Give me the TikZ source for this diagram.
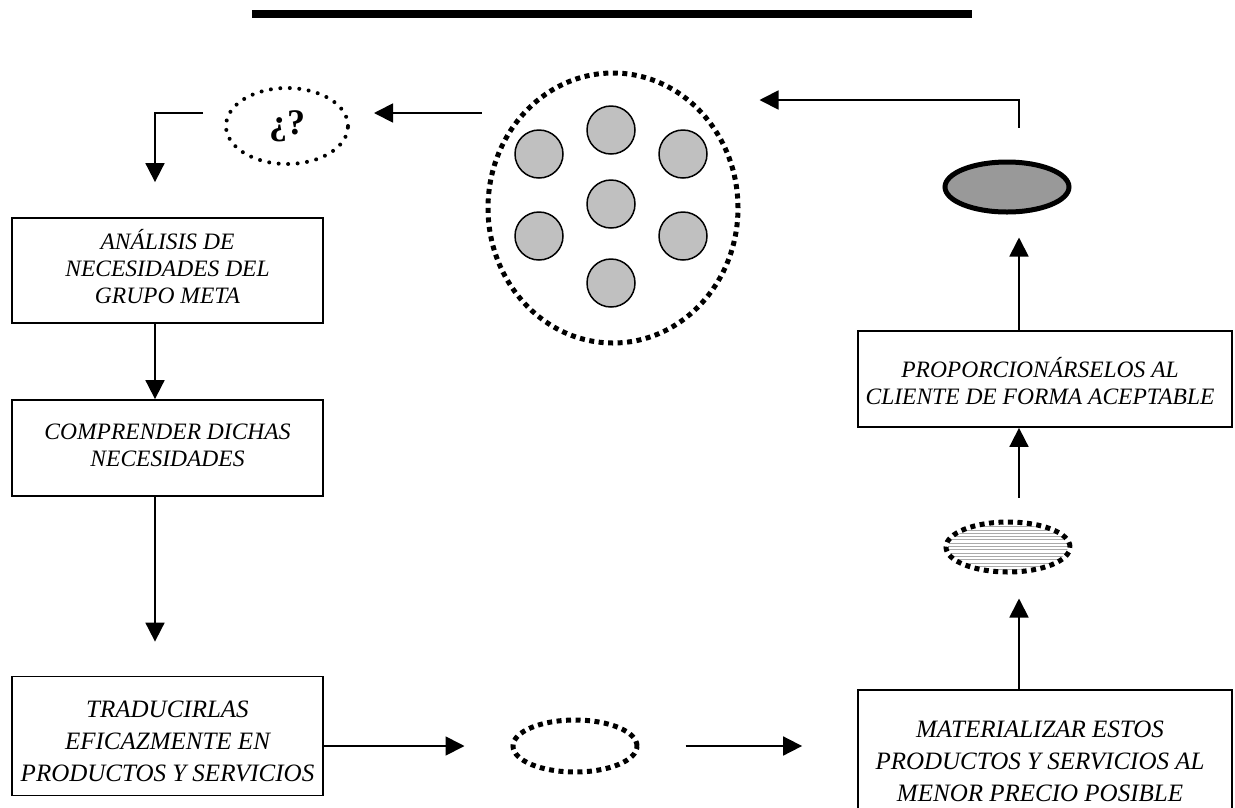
\documentclass[tikz,border=0pt]{standalone}
\usepackage{fontspec}
\setmainfont{Liberation Serif}
\usetikzlibrary{arrows.meta,shapes.geometric}
\definecolor{disc}{HTML}{C0C0C0}
\definecolor{darkdisc}{HTML}{999999}
\definecolor{hatch}{HTML}{AAAAAA}
\begin{document}
\begin{tikzpicture}[x=1pt,y=-1pt,
  stepbox/.style={draw,line width=1.8pt,rectangle,inner sep=0pt},
  uppertext/.style={inner sep=0pt,align=center,font=\fontsize{23.5}{27}\selectfont\itshape},
  lowertext/.style={inner sep=0pt,align=center,font=\fontsize{25}{32}\selectfont\itshape},
  arr/.style={line width=1.8pt,-{Triangle[length=19pt,width=19pt]}},
  rounddots/.style={draw,line width=4pt,line cap=round,dash pattern=on 0pt off 9.5pt},
  squaredots/.style={draw,line width=5pt,dash pattern=on 5pt off 4.5pt},
  oval/.style={ellipse,inner sep=0pt},
  member/.style={circle,draw,line width=1.5pt,fill=disc,minimum size=48pt,inner sep=0pt}]
\useasboundingbox (0,0) rectangle (1235,807);
\clip (0,0) rectangle (1235,807);

% heading rule
\fill (252,10) rectangle (972,18);

% helper coordinates for connector columns and rows
\coordinate (lx) at (155,0);
\coordinate (rx) at (1019,0);
\coordinate (ty) at (0,113);
\coordinate (ty2) at (0,100);

% left column
\node[stepbox,minimum width=311pt,minimum height=105pt] (b1) at (167.5,270.5) {};
\node[uppertext] (t1) at (167.5,266.5) {ANÁLISIS DE\\NECESIDADES DEL\\GRUPO META};
\node[stepbox,minimum width=311pt,minimum height=96pt] (b2) at (167.5,448) {};
\node[uppertext] (t2) at (167.5,445) {COMPRENDER DICHAS\\NECESIDADES};
\node[stepbox,minimum width=311pt,minimum height=119pt] (b3) at (167.5,736) {};
\node[lowertext] (t3) at (167.5,741) {TRADUCIRLAS\\EFICAZMENTE EN\\PRODUCTOS Y SERVICIOS};

% right column
\node[stepbox,minimum width=374pt,minimum height=96pt] (b5) at (1045,379) {};
\node[uppertext] (t5) at (1040,381) {PROPORCIONÁRSELOS AL\\CLIENTE DE FORMA ACEPTABLE};
\node[stepbox,minimum width=374pt,minimum height=140pt] (b4) at (1045,760) {};
\node[lowertext] (t4) at (1040,761) {MATERIALIZAR ESTOS\\PRODUCTOS Y SERVICIOS AL\\MENOR PRECIO POSIBLE};

% question bubble
\node[oval,rounddots,minimum width=122pt,minimum height=76pt,
  font=\fontsize{36}{36}\selectfont\bfseries] (qm) at (287,126) {¿?};

% group of members
\node[oval,squaredots,minimum width=250pt,minimum height=270pt] (big) at (613,208) {};
\node[member] (m1) at (539,154) {};
\node[member] (m2) at (611,130) {};
\node[member] (m3) at (683,154) {};
\node[member] (m4) at (611,204) {};
\node[member] (m5) at (539,236) {};
\node[member] (m6) at (683,236) {};
\node[member] (m7) at (611,283) {};

% small empty oval
\node[oval,squaredots,minimum width=124pt,minimum height=52pt] (sm) at (575,746) {};

% hatched oval
\begin{scope}
  \clip (1008,547) ellipse [x radius=60, y radius=23];
  \foreach \yy in {520,523.3,...,575}
    \draw[hatch,line width=0.8pt] (940,\yy) -- (1080,\yy);
\end{scope}
\node[oval,squaredots,minimum width=124pt,minimum height=50pt] (hat) at (1008,547) {};

% solid dark oval
\node[oval,draw,line width=5pt,fill=darkdisc,minimum width=124pt,minimum height=50pt] (dark) at (1007,187) {};

% connectors
\draw[arr,shorten <=4pt,shorten >=24pt] (big.west |- ty) -- (qm.east |- ty);
\draw[arr,shorten <=21pt,shorten >=35pt] (qm.west |- ty) -| (b1.north -| lx);
\draw[arr] (b1.south -| lx) -- (b2.north -| lx);
\draw[arr,shorten >=34pt] (b2.south -| lx) -- (b3.north -| lx);
\draw[arr,shorten >=46pt] (b3.east |- sm.center) -- (sm.west);
\draw[arr,shorten <=46pt,shorten >=55pt] (sm.east) -- (b4.west |- sm.center);
\draw[arr,shorten >=24pt] (b4.north -| rx) -- (hat.south -| rx);
\draw[arr,shorten <=22pt] (hat.north -| rx) -- (b5.south -| rx);
\draw[arr,shorten >=23pt] (b5.north -| rx) -- (dark.south -| rx);
\draw[arr,shorten <=32pt,shorten >=19pt] (dark.north -| rx) |- (big.east |- ty2);
\end{tikzpicture}
\end{document}
